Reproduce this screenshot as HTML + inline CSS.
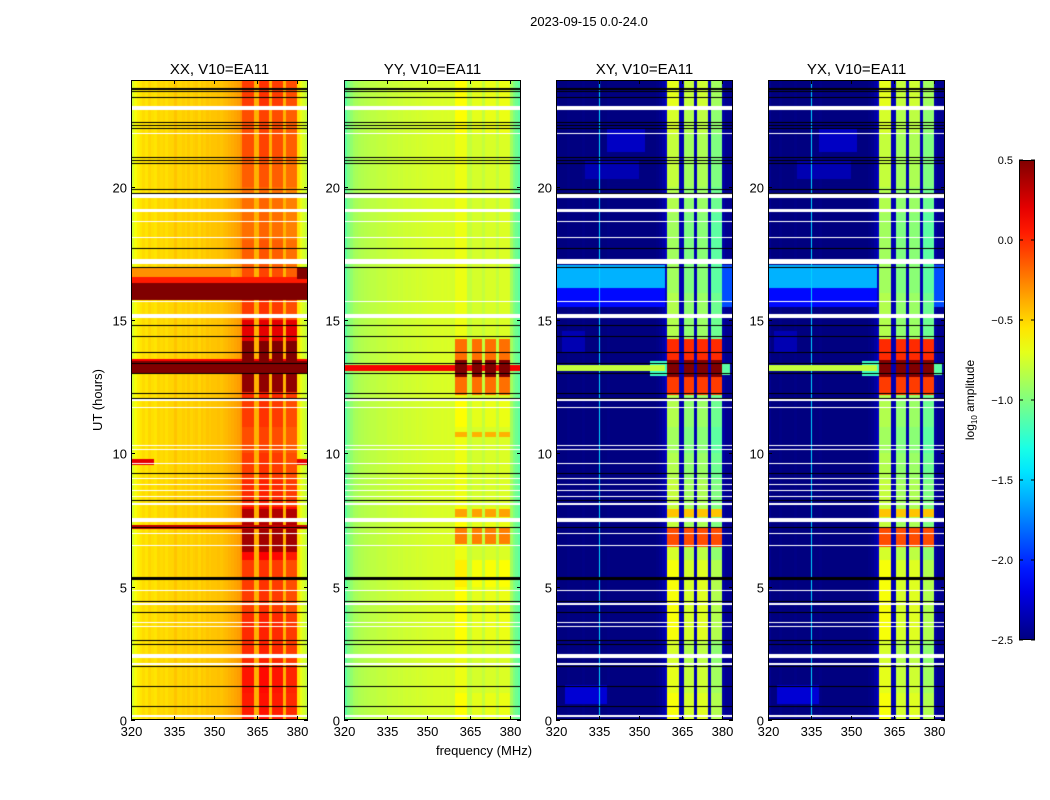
<!DOCTYPE html>
<html><head><meta charset="utf-8">
<style>
html,body{margin:0;padding:0;background:#fff;}
#root{position:relative;width:1050px;height:800px;overflow:hidden;font-family:"Liberation Sans",sans-serif;}
canvas{position:absolute;}
svg{position:absolute;left:0;top:0;}
</style></head>
<body>
<div id="root">
<canvas id="c0" width="177" height="640" style="left:131px;top:80px"></canvas>
<canvas id="c1" width="177" height="640" style="left:344px;top:80px"></canvas>
<canvas id="c2" width="177" height="640" style="left:556px;top:80px"></canvas>
<canvas id="c3" width="177" height="640" style="left:768px;top:80px"></canvas>
<svg id="ov" width="1050" height="800"></svg>
</div>
<script>
// ---------- data ----------
const panelTitles = ["XX, V10=EA11","YY, V10=EA11","XY, V10=EA11","YX, V10=EA11"];
const xTickLabels = [320,335,350,365,380];
const yTickLabels = [0,5,10,15,20];
const cbarTickLabels = [0.5,0.0,-0.5,-1.0,-1.5,-2.0,-2.5];
const bandEdges = [[359.9,364.1],[365.6,369.4],[370.5,374.6],[375.7,380]];

const bgXX = [-0.75,-0.65,-0.58,-0.55,-0.52,-0.55,-0.5,-0.53,-0.55,-0.5,-0.52,-0.5,-0.53,-0.5,-0.5,-0.45,-0.5,-0.5,-0.48,-0.5,-0.47,-0.5,-0.48,-0.47,-0.5,-0.46,-0.48,-0.45,-0.47,-0.45,-0.45,-0.44,-0.45,-0.43,-0.42,-0.4,-0.38,-0.36,-0.34,-0.3,
 -0.4,-0.4,-0.4,-0.4,-0.4,-0.4,-0.4,-0.4,-0.4,-0.4,-0.4,-0.4,-0.4,-0.4,-0.4,-0.4,-0.4,-0.4,-0.4,-0.4,-0.55,-0.68,-0.74,-0.8];
const bgYY = [-1.1,-1.0,-0.95,-0.9,-0.88,-0.86,-0.85,-0.84,-0.83,-0.82,-0.82,-0.81,-0.8,-0.8,-0.8,-0.78,-0.79,-0.78,-0.78,-0.77,-0.78,-0.77,-0.76,-0.77,-0.76,-0.76,-0.75,-0.76,-0.75,-0.75,-0.74,-0.75,-0.74,-0.74,-0.74,-0.73,-0.74,-0.73,-0.75,-0.76,
 -0.8,-0.8,-0.8,-0.8,-0.8,-0.8,-0.8,-0.8,-0.8,-0.8,-0.8,-0.8,-0.8,-0.8,-0.8,-0.8,-0.8,-0.8,-0.8,-0.8,-0.9,-1.0,-1.05,-1.1];
const bgXY = [-2.45,-2.5,-2.5,-2.5,-2.48,-2.5,-2.5,-2.5,-2.5,-2.48,-2.5,-2.5,-2.5,-2.5,-2.5,-2.5,-2.5,-2.5,-2.48,-2.5,-2.5,-2.5,-2.5,-2.5,-2.5,-2.5,-2.5,-2.5,-2.5,-2.5,-2.5,-2.5,-2.5,-2.5,-2.5,-2.5,-2.48,-2.45,-2.4,-2.3,
 -2.35,-2.35,-2.35,-2.35,-2.35,-2.35,-2.35,-2.35,-2.35,-2.35,-2.35,-2.35,-2.35,-2.35,-2.35,-2.35,-2.35,-2.35,-2.35,-2.35,-2.4,-2.45,-2.45,-2.45];

const bandXX = [-0.05,-0.02,-0.05,-0.1];
const bandYY = [-0.68,-0.75,-0.74,-0.73];
const bandXY = [-0.85,-0.95,-0.92,-1.05];

const hourModXX = [0.1,0.12,0.05,0.05,0.0,0.0,0.15,0.2,0.05,0.0,-0.05,0.0,0.05,0.1,0.1,0.0,-0.05,-0.1,-0.15,-0.15,-0.1,-0.05,-0.05,0.0];
const hourModYY = [0.05,0.0,0.0,0.05,0.05,0.1,0.0,0.05,0.0,0.0,0.0,0.05,0.0,0.0,0.0,0.0,0.0,0.0,0.0,0.0,0.0,0.0,0.05,0.05];
const hourModXY = [0.2,0.15,0.1,0.2,0.2,0.2,0.1,0.05,0.05,0.0,-0.05,0.0,0.0,0.0,0.0,0.0,-0.05,-0.05,-0.05,0.0,0.05,0.05,0.1,0.15];

// events: [hourStart, hourEnd, freqLo, freqHi, level, bandsOnly]
const eventsXX = [
 [15.75,16.4,320,384,0.5,0],[16.4,16.6,320,384,0.05,0],[16.6,17.0,320,356,-0.3,0],[16.55,16.95,380,384,0.5,0],
 [12.97,13.45,320,384,0.5,0],[13.45,13.55,320,384,0.15,0],
 [13.45,14.2,359,380,0.5,1],[12.3,12.97,359,380,0.45,1],[14.2,15.0,359,380,0.2,1],
 [7.15,7.3,320,384,0.3,0],[6.3,7.15,359,380,0.4,1],[7.3,7.9,359,380,0.35,1],
 [9.55,9.8,320,328,0.2,0],[9.55,9.8,380,384,0.2,0]
];
const eventsYY = [
 [13.08,13.3,320,384,0.15,0],[12.85,13.5,359,380,0.5,1],[13.5,14.3,359,380,-0.2,1],[12.2,12.85,359,380,-0.2,1],
 [6.6,7.2,359,380,-0.25,1],[7.6,7.9,359,380,-0.35,1],[10.6,10.8,359,380,-0.4,1]
];
const eventsXY = [
 [13.08,13.3,320,359,-0.8,0],[12.9,13.45,354,359.9,-1.2,0],[12.95,13.4,380,383,-1.1,0],
 [12.85,13.5,359,380,0.5,1],[13.5,14.3,359,380,0.0,1],[12.2,12.85,359,380,-0.05,1],
 [6.5,7.2,359,380,-0.1,1],[7.6,7.9,359,380,-0.45,1],
 [16.2,17.05,320,359,-1.6,0],[15.5,16.2,320,359,-2.1,0],[15.5,17.05,380,384,-1.9,0],
 [0,24,334.9,335.25,-1.5,0],
 [21.3,22.2,338,352,-2.3,0],[20.3,21,330,350,-2.35,0],[0.6,1.3,323,338,-2.25,0],[13.8,14.6,322,330,-2.35,0]
];

// flagged (white) hour ranges, shared by all panels
const whiteRows = [[22.88,23.02],[21.97,22.03],[19.58,19.72],[19.04,19.16],[18.68,18.72],[18.08,18.12],[17.1,17.3],
 [15.68,15.72],[15.08,15.22],[11.98,12.02],[11.71,11.75],[10.28,10.32],[10.11,10.15],[9.6,9.64],[9.03,9.07],
 [8.81,8.85],[8.58,8.62],[8.35,8.39],[8.07,8.15],[7.42,7.58],[6.98,7.02],[6.54,6.58],[4.82,4.86],[4.33,4.37],
 [3.63,3.67],[3.5,3.54],[2.33,2.47],[2.08,2.12],[0.13,0.17]];
// black gap lines (hours), shared by all panels; second array: thickness px
const blackLines = [23.67,23.6,23.38,22.44,22.32,22.2,21.12,21.0,20.87,19.9,19.78,17.7,17.0,14.8,14.4,13.8,13.4,13.03,12.26,12.07,9.26,8.25,7.24,5.32,4.46,4.05,3.0,2.85,2.03,1.28,0.54];
const blackWidths = [2,1,1,1,1,1,1,1,1,1,1,1,1,1,1,1,1,1,1,1,1,1,1,3,1,1,1,1,1,1,1];

const panels = [
 {bg:bgXX,band:bandXX,mod:hourModXX,ev:eventsXX},
 {bg:bgYY,band:bandYY,mod:hourModYY,ev:eventsYY},
 {bg:bgXY,band:bandXY,mod:hourModXY,ev:eventsXY},
 {bg:bgXY,band:bandXY,mod:hourModXY,ev:eventsXY}
];
const panelLefts = [131,344,556,768];

// ---------- axis functions ----------
const PW=177, PH=640, TOP=80;
const tickPx=[0,43,83,126,166];
function fToX(f){
  if(f>=380) return 166+(f-380)*2.667;
  for(let i=0;i<4;i++){ if(f<=xTickLabels[i+1]) return tickPx[i]+(f-xTickLabels[i])/(xTickLabels[i+1]-xTickLabels[i])*(tickPx[i+1]-tickPx[i]); }
  return 0;
}
function xToF(px){
  if(px>=166) return 380+(px-166)/2.667;
  for(let i=0;i<4;i++){ if(px<=tickPx[i+1]) return xTickLabels[i]+(px-tickPx[i])/(tickPx[i+1]-tickPx[i])*(xTickLabels[i+1]-xTickLabels[i]); }
  return 320;
}
function hToY(h){ return PH - h*PH/24; }
function vToT(v){ return Math.max(0,Math.min(1,(v+2.5)/3)); }
function jet(t){
  const c=x=>Math.max(0,Math.min(1,x));
  return [c(1.5-Math.abs(4*t-3))*255, c(1.5-Math.abs(4*t-2))*255, c(1.5-Math.abs(4*t-1))*255];
}

// ---------- draw heatmaps ----------
panels.forEach((p,pi)=>{
  const cv=document.getElementById('c'+pi), ctx=cv.getContext('2d');
  const img=ctx.createImageData(PW,PH);
  for(let x=0;x<PW;x++){
    const f=xToF(x+0.5);
    let bi=-1; bandEdges.forEach((b,i)=>{ if(f>=b[0]&&f<b[1]) bi=i; });
    for(let y=0;y<PH;y++){
      const h=(PH-(y+0.5))*24/PH;
      let v = bi>=0 ? p.band[bi]+p.mod[Math.min(23,Math.floor(h))] : p.bg[Math.max(0,Math.min(63,Math.floor(f-320)))];
      for(const e of p.ev){ if(h>=e[0]&&h<e[1]&&f>=e[2]&&f<e[3]&&(!e[5]||bi>=0)) v=Math.max(v,e[4]); }
      let col=jet(vToT(v));
      for(const w of whiteRows){ if(h>=w[0]&&h<w[1]){ col=[255,255,255]; break; } }
      const k=(y*PW+x)*4; img.data[k]=col[0]; img.data[k+1]=col[1]; img.data[k+2]=col[2]; img.data[k+3]=255;
    }
  }
  ctx.putImageData(img,0,0);
  ctx.fillStyle='#000';
  blackLines.forEach((h,i)=>{ const y=Math.round(hToY(h)); ctx.fillRect(0,y-Math.floor(blackWidths[i]/2),PW,blackWidths[i]); });
});

// ---------- overlay ----------
const NS='http://www.w3.org/2000/svg', ov=document.getElementById('ov');
function mk(tag,attrs,parent){ const e=document.createElementNS(NS,tag); for(const k in attrs) e.setAttribute(k,attrs[k]); (parent||ov).appendChild(e); return e; }

const title=mk('text',{x:589,y:26,'font-size':13,'text-anchor':'middle',fill:'#000'});
title.textContent='2023-09-15 0.0-24.0';



panelLefts.forEach((L,pi)=>{
  const g=mk('g',{});
  
  
  const fr=mk('rect',{x:L+0.5,y:TOP+0.5,width:PW-1,height:PH-1,fill:'none',stroke:'#000','stroke-width':1},g);
  
  
  const t=mk('text',{x:L+PW/2,y:74,'font-size':15,'text-anchor':'middle',fill:'#000'},g);
  t.textContent=panelTitles[pi];
  
  
  xTickLabels.forEach(v=>{
    const x=L+Math.round(fToX(v))+0.5;
    mk('line',{x1:x,y1:TOP+PH,x2:x,y2:TOP+PH-4,stroke:'#000'},g);
    mk('line',{x1:x,y1:TOP,x2:x,y2:TOP+4,stroke:'#000'},g);
    const tl=mk('text',{x:x,y:TOP+PH+16,'font-size':13,'text-anchor':'middle',fill:'#000'},g);
    tl.textContent=v;
    
    
  });
  yTickLabels.forEach(v=>{
    const y=TOP+Math.round(hToY(v))+0.5;
    mk('line',{x1:L,y1:y,x2:L+4,y2:y,stroke:'#000'},g);
    mk('line',{x1:L+PW,y1:y,x2:L+PW-4,y2:y,stroke:'#000'},g);
    const tl=mk('text',{x:L-4,y:y+5,'font-size':13,'text-anchor':'end',fill:'#000'},g);
    tl.textContent=v;
    
    
  });
});

const yl=mk('text',{x:0,y:0,'font-size':13,'text-anchor':'middle',fill:'#000',transform:'translate(102,400) rotate(-90)'});
yl.textContent='UT (hours)';


const xl=mk('text',{x:484,y:755,'font-size':13,'text-anchor':'middle',fill:'#000'});
xl.textContent='frequency (MHz)';



// colorbar
const defs=mk('defs',{});
const lg=mk('linearGradient',{id:'jetg',x1:0,y1:1,x2:0,y2:0},defs);
for(let i=0;i<=20;i++){ const c=jet(i/20); mk('stop',{offset:(i/20),'stop-color':`rgb(${c.map(Math.round).join(',')})`},lg); }
const CB={x:1019,y:160,w:16,h:480};
const cbg=mk('g',{});


mk('rect',{x:CB.x,y:CB.y,width:CB.w,height:CB.h,fill:'url(#jetg)'},cbg);
mk('rect',{x:CB.x+0.5,y:CB.y+0.5,width:CB.w-1,height:CB.h-1,fill:'none',stroke:'#000'},cbg);
cbarTickLabels.forEach(v=>{
  const y=CB.y+CB.h*(1-vToT(v));
  mk('line',{x1:CB.x,y1:y,x2:CB.x+4,y2:y,stroke:'#000'},cbg);
  mk('line',{x1:CB.x+CB.w-4,y1:y,x2:CB.x+CB.w,y2:y,stroke:'#000'},cbg);
  const tl=mk('text',{x:CB.x-6,y:y+4,'font-size':11,'text-anchor':'end',fill:'#000'},cbg);
  tl.textContent=(v<0?'\u2212'+Math.abs(v).toFixed(1):v.toFixed(1));
  
  
});
const cl=mk('text',{x:0,y:0,'font-size':12,'text-anchor':'middle',fill:'#000',transform:'translate(974,400) rotate(-90)'});
cl.innerHTML='log<tspan font-size="8" dy="3">10</tspan><tspan dy="-3"> amplitude</tspan>';


</script>
</body></html>
